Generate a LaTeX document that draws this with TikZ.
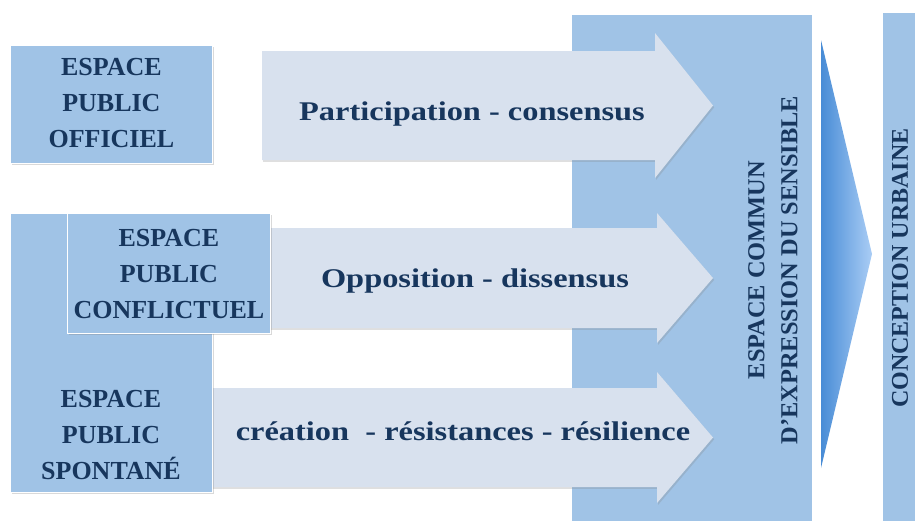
\documentclass[tikz,border=0pt]{standalone}
\usepackage{fontspec}
\setmainfont{Liberation Serif}
\newfontfamily\widefont[FakeStretch=1.2]{Liberation Serif}
\usetikzlibrary{shadows}
\definecolor{boxblue}{RGB}{160,195,230}
\definecolor{arrowfill}{RGB}{216,225,238}
\definecolor{navy}{RGB}{23,54,93}
\definecolor{tridark}{RGB}{72,140,214}
\definecolor{trilight}{RGB}{170,205,245}
\tikzset{
  bluebox/.style={fill=boxblue, draw=white, line width=0.8pt,
     drop shadow={shadow xshift=1.5pt, shadow yshift=-2pt, opacity=0.3, fill=gray}},
  arrowshape/.style={fill=arrowfill,
     drop shadow={shadow xshift=1.2pt, shadow yshift=-1.8pt, opacity=0.25, fill=gray}},
  boxtext/.style={text=navy, font=\fontsize{26}{36}\selectfont\bfseries, align=center, inner sep=0pt},
  arrowtext/.style={text=navy, font=\widefont\fontsize{27}{30}\selectfont\bfseries, inner sep=0pt, anchor=base},
  vtext/.style={text=navy, font=\fontsize{24.4}{33}\selectfont\bfseries, align=center, rotate=90, inner sep=0pt},
}
\begin{document}
\begin{tikzpicture}[x=1pt,y=-1pt]
\useasboundingbox (0,0) rectangle (915,520);
\clip (0,0) rectangle (915,520);
% big common space box
\fill[boxblue] (572,15) rectangle (812,525);
% conception box
\fill[boxblue] (883,13) rectangle (920,525);
% arrows
\fill[arrowshape] (262,51) -- (655,51) -- (655,33) -- (713,105.5) -- (655,178) -- (655,160) -- (262,160) -- cycle;
\fill[arrowshape] (200,228) -- (657,228) -- (657,213) -- (713,278) -- (657,343) -- (657,328) -- (200,328) -- cycle;
\fill[arrowshape] (200,388) -- (657,388) -- (657,372) -- (713,437.5) -- (657,503) -- (657,487) -- (200,487) -- cycle;
% triangle
\shade[left color=tridark, right color=trilight] (821,40) -- (872,254) -- (821,468) -- cycle;
% boxes
\node[bluebox, minimum width=202pt, minimum height=118pt, anchor=north west] (off) at (10,45) {};
\node[boxtext] (offt) at ([yshift=1pt]off.center) {ESPACE\\PUBLIC\\OFFICIEL};
\node[bluebox, minimum width=202pt, minimum height=279pt, anchor=north west] (spo) at (10,213) {};
\node[bluebox, minimum width=203pt, minimum height=120pt, anchor=north west] (con) at (67,213) {};
\node[boxtext] (cont) at ([yshift=-1pt]con.center) {ESPACE\\PUBLIC\\CONFLICTUEL};
\node[boxtext] (spot) at (111,435) {ESPACE\\PUBLIC\\SPONTANÉ};
% arrow texts
\node[arrowtext] (a1) at (472,120) {Participation - consensus};
\node[arrowtext] (a2) at (475,287) {Opposition - dissensus};
\node[arrowtext] (a3) at (463,440) {création \ - résistances - résilience};
% vertical texts
\node[vtext] (ec) at (773,270) {ESPACE COMMUN\\D'EXPRESSION DU SENSIBLE};
\node[vtext, font=\fontsize{24}{33}\selectfont\bfseries] (cu) at (900,268) {CONCEPTION URBAINE};
\end{tikzpicture}
\end{document}
